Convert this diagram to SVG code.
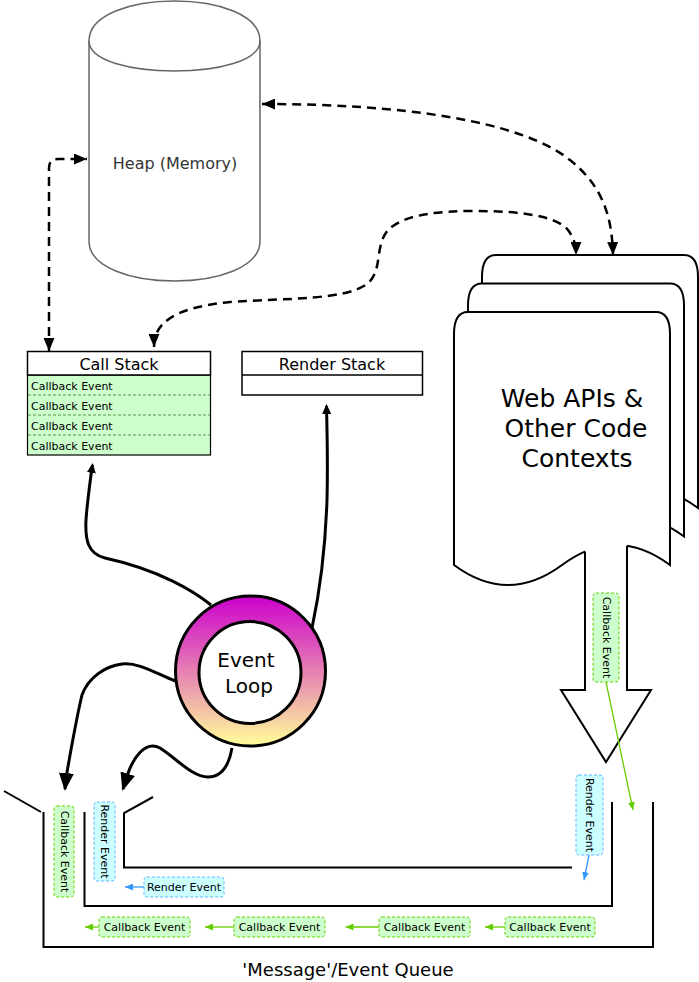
<svg xmlns="http://www.w3.org/2000/svg" width="699" height="982" viewBox="0 0 699 982">
<style>
text{font-family:"DejaVu Sans",Verdana,sans-serif;fill:#000}
.ln{fill:none;stroke:#000;stroke-width:2}
.doc{fill:#fff;stroke:#000;stroke-width:2}
.dash{fill:none;stroke:#000;stroke-width:2.5;stroke-dasharray:9 6}
.thick{fill:none;stroke:#000;stroke-width:3}
.cb{fill:#CCFFCC;stroke:#66CC00;stroke-width:1;stroke-dasharray:3 2}
.rb{fill:#CCFFFF;stroke:#66B2FF;stroke-width:1;stroke-dasharray:3 2}
.sm{font-size:11px}
.garr{fill:none;stroke:#66CC00;stroke-width:1.3}
.barr{fill:none;stroke:#3399FF;stroke-width:1.3}
</style>
<defs>
<linearGradient id="loopg" x1="0" y1="0" x2="0" y2="1">
<stop offset="0" stop-color="#CC00CC"/>
<stop offset="1" stop-color="#FFFF99"/>
</linearGradient>
<marker id="big" markerUnits="userSpaceOnUse" markerWidth="18" markerHeight="15" refX="16" refY="7.5" orient="auto"><path d="M0,0 L18,7.5 L0,15 Z" fill="#000"/></marker>
<marker id="mid" markerUnits="userSpaceOnUse" markerWidth="10" markerHeight="9" refX="8" refY="4.5" orient="auto"><path d="M0,0 L10,4.5 L0,9 Z" fill="#000"/></marker>
<marker id="da" markerUnits="userSpaceOnUse" markerWidth="13" markerHeight="11" refX="13" refY="5.5" orient="auto-start-reverse"><path d="M0,0 L13,5.5 L0,11 Z" fill="#000"/></marker>
<marker id="ga" markerUnits="userSpaceOnUse" markerWidth="8" markerHeight="7" refX="8" refY="3.5" orient="auto"><path d="M0,0 L8,3.5 L0,7 Z" fill="#66CC00"/></marker>
<marker id="ba" markerUnits="userSpaceOnUse" markerWidth="8" markerHeight="7" refX="8" refY="3.5" orient="auto"><path d="M0,0 L8,3.5 L0,7 Z" fill="#3399FF"/></marker>
</defs>
<rect width="699" height="982" fill="#fff"/>

<g id="heap">
<path d="M89,41 C89,-12.3 260,-12.3 260,41 L260,241 C260,294.3 89,294.3 89,241 Z" fill="#fff" stroke="#666" stroke-width="1.5"/>
<path d="M89,41 C89,81 260,81 260,41" fill="none" stroke="#666" stroke-width="1.5"/>
<text x="175" y="169" font-size="16" text-anchor="middle" style="fill:#333">Heap (Memory)</text>
</g>

<g id="webapis">
<path class="doc" d="M482,277 C482,261 487,255 496,255 L684,255 C693,255 698,261 698,277 L698,508 Q644,468 590,508 Q536,548 482,508 Z"/>
<path class="doc" d="M468,305.5 C468,289.5 473,283.5 482,283.5 L670,283.5 C679,283.5 684,289.5 684,305.5 L684,536.5 Q630,496.5 576,536.5 Q522,576.5 468,536.5 Z"/>
<path class="doc" d="M454,334 C454,318 459,312 468,312 L656,312 C665,312 670,318 670,334 L670,565 Q616,525 562,565 Q508,605 454,565 Z"/>
<text font-size="25" text-anchor="middle"><tspan x="572" y="407">Web APIs &amp;</tspan><tspan x="576" y="437">Other Code</tspan><tspan x="577" y="467">Contexts</tspan></text>
</g>

<g id="bigarrow">
<path d="M585,530 L585,690 L561,690 L606,762 L651,690 L627,690 L627,530 Z" fill="#fff" stroke="none"/>
<path class="ln" d="M585,551.6 L585,690 L561,690 L606,762 L651,690 L627,690 L627,545.8"/>
</g>

<g id="callstack">
<rect x="27.5" y="375" width="183" height="80" fill="#CCFFCC" stroke="#000" stroke-width="1.2"/>
<line x1="28" y1="395" x2="210" y2="395" stroke="#5a8f4a" stroke-width="1" stroke-dasharray="3 2"/>
<line x1="28" y1="415" x2="210" y2="415" stroke="#5a8f4a" stroke-width="1" stroke-dasharray="3 2"/>
<line x1="28" y1="435" x2="210" y2="435" stroke="#5a8f4a" stroke-width="1" stroke-dasharray="3 2"/>
<rect x="27.5" y="351.5" width="183" height="23.5" fill="#fff" stroke="#000" stroke-width="1.5"/>
<text x="119" y="370" font-size="16" text-anchor="middle">Call Stack</text>
<text class="sm" x="31" y="390">Callback Event</text>
<text class="sm" x="31" y="410">Callback Event</text>
<text class="sm" x="31" y="430">Callback Event</text>
<text class="sm" x="31" y="450">Callback Event</text>
</g>

<g id="renderstack">
<rect x="242" y="351.5" width="180.5" height="43.5" fill="#fff" stroke="#000" stroke-width="1.5"/>
<line x1="242" y1="375" x2="422.5" y2="375" stroke="#000" stroke-width="1.5"/>
<text x="332" y="370" font-size="16" text-anchor="middle">Render Stack</text>
</g>

<g id="eventloop">
<circle cx="250.5" cy="671" r="75" fill="url(#loopg)" stroke="#000" stroke-width="3"/>
<circle cx="250" cy="672.5" r="51" fill="#fff" stroke="#000" stroke-width="3"/>
<text font-size="20" text-anchor="middle"><tspan x="246" y="667">Event</tspan><tspan x="249" y="693">Loop</tspan></text>
</g>

<g id="queue">
<line class="ln" x1="4" y1="791" x2="41" y2="812"/>
<path class="ln" d="M43.5,812 L43.5,947 L653,947 L653,802"/>
<path class="ln" d="M84.5,812 L84.5,906 L612,906 L612,802"/>
<path class="ln" d="M153,797 L124,813 L124,867.5 L572,867.5"/>
<text x="348" y="976" font-size="18" text-anchor="middle">'Message'/Event Queue</text>
</g>

<g id="q-callback-v">
<rect class="cb" x="54" y="806" width="20" height="91" rx="3"/>
<text class="sm" transform="translate(64,851.5) rotate(90)" text-anchor="middle" dominant-baseline="central">Callback Event</text>
</g>
<g id="q-render-v">
<rect class="rb" x="94" y="802" width="21" height="79" rx="3"/>
<text class="sm" transform="translate(104.5,841.5) rotate(90)" text-anchor="middle" dominant-baseline="central">Render Event</text>
</g>
<g id="q-render-h">
<rect class="rb" x="144" y="877" width="80" height="20" rx="3"/>
<text class="sm" x="184" y="891" text-anchor="middle">Render Event</text>
</g>
<g id="q-render-right">
<rect class="rb" x="576" y="775" width="27" height="80" rx="3"/>
<text class="sm" transform="translate(589.5,815) rotate(90)" text-anchor="middle" dominant-baseline="central">Render Event</text>
</g>
<g id="arrow-callback">
<rect class="cb" x="593" y="593" width="26" height="89" rx="3"/>
<text class="sm" transform="translate(606,637.5) rotate(90)" text-anchor="middle" dominant-baseline="central">Callback Event</text>
</g>
<g id="q-cb1">
<rect class="cb" x="99" y="917" width="91" height="20" rx="3"/>
<text class="sm" x="144.5" y="931" text-anchor="middle">Callback Event</text>
</g>
<g id="q-cb2">
<rect class="cb" x="234" y="917" width="91" height="20" rx="3"/>
<text class="sm" x="279.5" y="931" text-anchor="middle">Callback Event</text>
</g>
<g id="q-cb3">
<rect class="cb" x="379" y="917" width="91" height="20" rx="3"/>
<text class="sm" x="424.5" y="931" text-anchor="middle">Callback Event</text>
</g>
<g id="q-cb4">
<rect class="cb" x="505" y="917" width="90" height="20" rx="3"/>
<text class="sm" x="550" y="931" text-anchor="middle">Callback Event</text>
</g>

<g id="connectors">
<path class="dash" d="M49,351 L49,168 Q49,159 58,159 L87,159" marker-start="url(#da)" marker-end="url(#da)"/>
<path class="dash" d="M262,104 C400,104 520,120 570,160 C605,188 612,220 613,255" marker-start="url(#da)" marker-end="url(#da)"/>
<path class="dash" d="M154,347 C154,325 170,308 230,302 C290,298 345,300 367,284 C385,270 372,240 393,226 C410,214 440,211 475,211 C520,211 557,216 568,230 C574,238 576,245 576,255" marker-start="url(#da)" marker-end="url(#da)"/>
<path class="thick" d="M211,605 C195,592 160,570 105,558 C88,554 85,540 86,520 C87,505 89,490 91,475 L92.5,465" marker-end="url(#mid)"/>
<path class="thick" d="M312,628 C318,600 325,560 327,500 C328,460 327,430 326.5,406" marker-end="url(#mid)"/>
<path class="thick" d="M175,681 C155,673 138,662 122,664 C105,666 88,678 82,695 C76,720 70,755 66,778 L65,789" marker-end="url(#big)"/>
<path class="thick" d="M232,748 C229,765 222,777 208,777 C192,777 176,758 160,748 C145,740 133,758 127,776 L123,789" marker-end="url(#big)"/>
<path class="garr" d="M606,682 L633,810" marker-end="url(#ga)"/>
<path class="barr" d="M589,855 L584,880" marker-end="url(#ba)"/>
<path class="barr" d="M144,887 L125,887" marker-end="url(#ba)"/>
<path class="garr" d="M99,927 L85,927" marker-end="url(#ga)"/>
<path class="garr" d="M234,927 L205,927" marker-end="url(#ga)"/>
<path class="garr" d="M379,927 L345.5,927" marker-end="url(#ga)"/>
<path class="garr" d="M505,927 L485,927" marker-end="url(#ga)"/>
</g>
</svg>
